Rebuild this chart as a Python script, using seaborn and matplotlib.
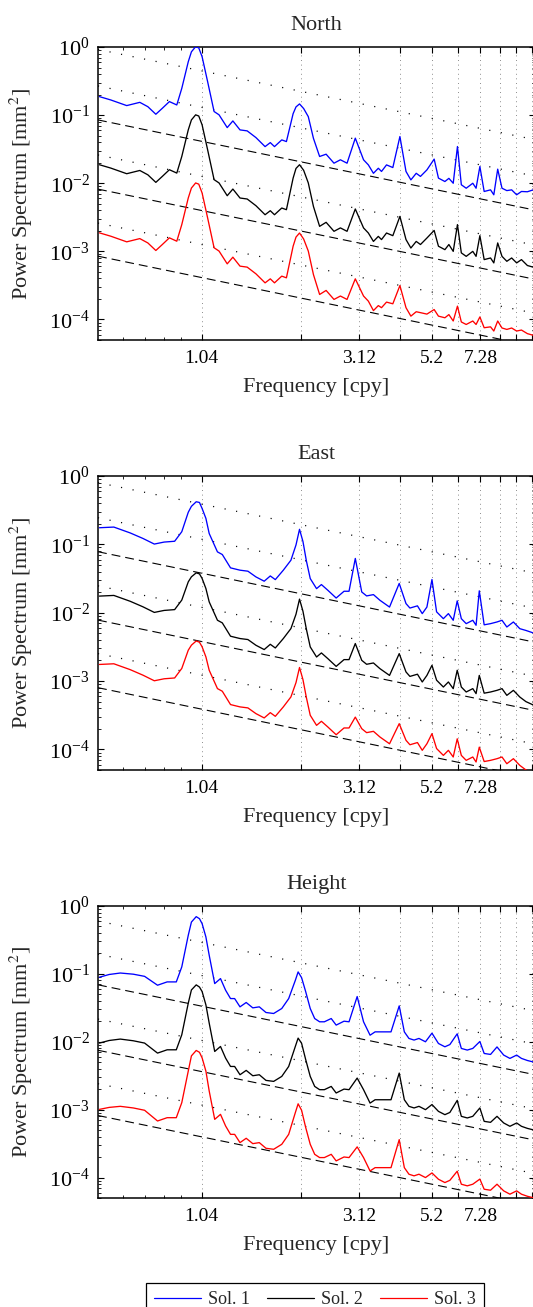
import numpy as np
import pandas as pd
import matplotlib
matplotlib.use('Agg')
import matplotlib.pyplot as plt
import seaborn as sns
from matplotlib.lines import Line2D
from matplotlib.ticker import FixedLocator, FixedFormatter, LogLocator, NullFormatter

SOLUTIONS = ['Sol. 1', 'Sol. 2', 'Sol. 3']
COLORS = {'Sol. 1': '#0000ff', 'Sol. 2': '#000000', 'Sol. 3': '#ff0000'}
# spectra are shifted by one decade each so they don't overlap
STACK = {'Sol. 1': 10.0, 'Sol. 2': 1.0, 'Sol. 3': 0.1}

HARMONICS = [1.04, 2.08, 3.12, 4.16, 5.2, 6.24, 7.28, 8.32, 9.36, 10.4]
HARM_LABELS = ['1.04', '', '3.12', '', '5.2', '', '7.28', '', '', '']

# ---- North ----
north_freq = [0.51, 0.552, 0.617, 0.676, 0.715, 0.756, 0.791, 0.831, 0.875, 0.906,
              0.948, 0.969, 0.998, 1.02, 1.044, 1.085, 1.135, 1.175, 1.244, 1.294, 1.36, 1.43,
              1.52, 1.62, 1.68, 1.73, 1.82, 1.88, 1.97, 2.01, 2.06, 2.12, 2.19, 2.27,
              2.37, 2.48, 2.62, 2.74, 2.87, 3.04, 3.22, 3.33, 3.45, 3.57,
              3.65, 3.78, 3.95, 4.15, 4.33, 4.48, 4.65, 4.79, 5.01, 5.27,
              5.43, 5.68, 5.84, 6.02, 6.20, 6.37, 6.59, 6.90, 7.06, 7.25,
              7.47, 7.81, 7.99, 8.21, 8.46, 8.75, 9.05, 9.37, 9.69, 10.1, 10.6]
north_sol1 = [0.0187, 0.0167, 0.0138, 0.0154, 0.0133, 0.0103, 0.0126, 0.0158, 0.0141, 0.0247,
              0.0608, 0.085, 0.101, 0.097, 0.072, 0.031, 0.0113, 0.0101, 0.00656, 0.00822, 0.00607, 0.00587,
              0.00468, 0.00345, 0.00395, 0.00345, 0.00433, 0.00409, 0.0105, 0.0132, 0.0146, 0.0125, 0.0095, 0.00457,
              0.00247, 0.00267, 0.00197, 0.00221, 0.00197, 0.00459, 0.00221, 0.00186, 0.0014, 0.00166,
              0.00149, 0.00186, 0.0017, 0.00485, 0.00149, 0.00112, 0.0014, 0.00126, 0.00157, 0.00226,
              0.00119, 0.00106, 0.00118, 0.001, 0.00346, 0.00095, 0.000845, 0.001, 0.000845, 0.00176,
              0.000757, 0.0008, 0.000677, 0.00161, 0.000845, 0.00078, 0.0008, 0.000677, 0.000757, 0.00075, 0.00081]
north_sol2 = [0.0187, 0.0167, 0.0138, 0.0154, 0.0133, 0.0103, 0.0126, 0.0158, 0.0141, 0.0247,
              0.0608, 0.085, 0.101, 0.097, 0.072, 0.031, 0.0113, 0.0101, 0.00656, 0.00822, 0.00607, 0.00587,
              0.00468, 0.00345, 0.00395, 0.00345, 0.00433, 0.00409, 0.0119, 0.0165, 0.0187, 0.0155, 0.0101, 0.00457,
              0.00233, 0.00267, 0.00197, 0.00221, 0.00197, 0.00419, 0.00221, 0.00186, 0.0014, 0.00166,
              0.00149, 0.00186, 0.0017, 0.00326, 0.00149, 0.00112, 0.0014, 0.00126, 0.00157, 0.00203,
              0.00119, 0.00106, 0.00126, 0.001, 0.00247, 0.00095, 0.000845, 0.001, 0.000845, 0.0017,
              0.000757, 0.0008, 0.000677, 0.00133, 0.000845, 0.000715, 0.0008, 0.000677, 0.000757, 0.00062, 0.00058]
north_sol3 = [0.0187, 0.0167, 0.0138, 0.0154, 0.0133, 0.0103, 0.0126, 0.0158, 0.0141, 0.0247,
              0.0608, 0.085, 0.101, 0.097, 0.072, 0.031, 0.0113, 0.0101, 0.00656, 0.00822, 0.00607, 0.00587,
              0.00468, 0.00345, 0.00395, 0.00345, 0.00433, 0.00409, 0.0119, 0.0162, 0.0186, 0.0152, 0.0101, 0.00457,
              0.00233, 0.00267, 0.00197, 0.00221, 0.00197, 0.00395, 0.00221, 0.00186, 0.00135, 0.0016,
              0.00149, 0.0018, 0.0017, 0.00315, 0.00149, 0.00112, 0.0013, 0.00126, 0.0012, 0.0014,
              0.00112, 0.00106, 0.00118, 0.00095, 0.00157, 0.00092, 0.000845, 0.00095, 0.000845, 0.00109,
              0.000757, 0.00078, 0.000677, 0.00095, 0.00075, 0.000715, 0.00075, 0.000677, 0.0007, 0.00062, 0.00058]

# ---- East ----
east_freq = [0.51, 0.564, 0.632, 0.691, 0.748, 0.801, 0.862, 0.906, 0.948, 0.969, 1.002, 1.025,
             1.044, 1.072, 1.097, 1.162, 1.202, 1.273, 1.36, 1.437, 1.52, 1.61, 1.68,
             1.74, 1.84, 1.94, 2.01, 2.06, 2.11, 2.16, 2.22, 2.32, 2.40, 2.51, 2.66,
             2.81, 2.91, 3.04, 3.18, 3.29, 3.45, 3.61, 3.86, 4.13, 4.33,
             4.45, 4.69, 4.85, 5.01, 5.19, 5.36, 5.62, 5.82, 6.02, 6.19,
             6.37, 6.59, 6.90, 7.06, 7.22, 7.47, 7.81, 8.17, 8.46, 8.75,
             9.16, 9.58, 10.0, 10.6]
east_sol1 = [0.0175, 0.0179, 0.0147, 0.0122, 0.0101, 0.0108, 0.0111, 0.0153, 0.0295, 0.036, 0.042, 0.041,
             0.0335, 0.024, 0.0144, 0.00776, 0.0071, 0.00453, 0.00419, 0.00405, 0.00334, 0.00289, 0.00345,
             0.00305, 0.00419, 0.00586, 0.0098, 0.0166, 0.011, 0.0058, 0.00316, 0.00225, 0.00258, 0.00213, 0.00164,
             0.00206, 0.00206, 0.00622, 0.00201, 0.00176, 0.00184, 0.00152, 0.00121, 0.00268, 0.00136,
             0.00117, 0.00126, 0.00097, 0.00121, 0.00306, 0.00103, 0.000818, 0.00097, 0.000775, 0.00149,
             0.000818, 0.000692, 0.000775, 0.000655, 0.00209, 0.000665, 0.000692, 0.000732, 0.000775, 0.000618,
             0.000732, 0.000584, 0.00055, 0.0005]
east_sol2 = [0.0175, 0.0179, 0.0147, 0.0122, 0.0101, 0.0108, 0.0111, 0.0153, 0.0283, 0.0335, 0.0383, 0.037,
             0.0317, 0.0226, 0.0144, 0.00776, 0.0071, 0.00453, 0.00419, 0.00405, 0.00334, 0.00289, 0.00345,
             0.00305, 0.00419, 0.00586, 0.0095, 0.0158, 0.0105, 0.0058, 0.00316, 0.00225, 0.00258, 0.00213, 0.00164,
             0.00206, 0.00206, 0.00354, 0.00201, 0.00176, 0.00184, 0.00152, 0.00121, 0.00252, 0.00136,
             0.00117, 0.00126, 0.00097, 0.00121, 0.0017, 0.00103, 0.000818, 0.00097, 0.000775, 0.00144,
             0.000818, 0.000692, 0.000775, 0.000655, 0.00121, 0.000665, 0.000692, 0.000732, 0.000775, 0.000618,
             0.000732, 0.000584, 0.0005, 0.00044]
east_sol3 = [0.0175, 0.0179, 0.0147, 0.0122, 0.0101, 0.0108, 0.0111, 0.0153, 0.0283, 0.0335, 0.0386, 0.037,
             0.0317, 0.0226, 0.0144, 0.00776, 0.0071, 0.00453, 0.00419, 0.00405, 0.00334, 0.00289, 0.00345,
             0.00305, 0.00419, 0.00586, 0.0095, 0.0158, 0.0105, 0.0058, 0.00316, 0.00225, 0.00258, 0.00213, 0.00164,
             0.00206, 0.00206, 0.00297, 0.00201, 0.00176, 0.00184, 0.00152, 0.00121, 0.00238, 0.00136,
             0.00117, 0.00126, 0.00097, 0.00121, 0.0017, 0.00103, 0.000818, 0.00097, 0.000775, 0.00143,
             0.000818, 0.000692, 0.000775, 0.000655, 0.00108, 0.000665, 0.000692, 0.000732, 0.000775, 0.000618,
             0.000732, 0.000584, 0.0005, 0.00044]

# ---- Height ----
height_freq = [0.51, 0.546, 0.59, 0.646, 0.699, 0.765, 0.818, 0.872, 0.906, 0.948, 0.969,
               1.002, 1.025, 1.044, 1.072, 1.097, 1.14, 1.187, 1.23, 1.273, 1.31, 1.36, 1.42,
               1.487, 1.556, 1.63, 1.72, 1.82, 1.91, 2.0, 2.04, 2.09, 2.15, 2.22, 2.29,
               2.37, 2.45, 2.57, 2.66, 2.81, 2.91, 3.08, 3.22, 3.37, 3.49,
               3.70, 3.90, 4.13, 4.28, 4.42, 4.58, 4.74, 4.96, 5.19, 5.43,
               5.68, 5.88, 6.19, 6.37, 6.64, 6.90, 7.25, 7.47, 7.81, 8.17,
               8.56, 8.94, 9.37, 9.69, 10.1, 10.6]
height_sol1 = [0.00893, 0.0098, 0.0103, 0.0099, 0.0092, 0.00681, 0.00762, 0.00762, 0.01268, 0.0371, 0.058,
               0.0697, 0.065, 0.055, 0.035, 0.01884, 0.0072, 0.00853, 0.00575, 0.00433, 0.00433, 0.00327, 0.00379,
               0.00316, 0.00327, 0.0027, 0.00261, 0.00309, 0.00433, 0.008, 0.0107, 0.0088, 0.0055, 0.00309, 0.0022,
               0.00197, 0.00197, 0.0022, 0.00176, 0.00201, 0.00197, 0.00464, 0.00197, 0.00125, 0.0014,
               0.0014, 0.0014, 0.00338, 0.0014, 0.00112, 0.00106, 0.00112, 0.001, 0.00134, 0.000944,
               0.000844, 0.00091, 0.00131, 0.000798, 0.000755, 0.000798, 0.00101, 0.000673, 0.000651, 0.00084,
               0.000637, 0.000569, 0.000637, 0.000569, 0.00053, 0.0005]
height_sol2 = [0.00957, 0.01045, 0.01096, 0.01035, 0.00957, 0.00681, 0.00762, 0.00762, 0.01268, 0.0371, 0.058,
               0.0689, 0.064, 0.055, 0.035, 0.01884, 0.0072, 0.00853, 0.00575, 0.00433, 0.00433, 0.00327, 0.00379,
               0.00316, 0.00327, 0.0027, 0.00261, 0.00309, 0.00433, 0.0085, 0.01133, 0.0095, 0.0055, 0.00309, 0.0022,
               0.00197, 0.00197, 0.0022, 0.00176, 0.00201, 0.00197, 0.00292, 0.00197, 0.00125, 0.0014,
               0.0014, 0.0014, 0.00346, 0.0014, 0.00112, 0.00106, 0.00112, 0.001, 0.00119, 0.000944,
               0.000844, 0.00091, 0.00137, 0.000798, 0.000755, 0.000798, 0.00106, 0.000673, 0.000651, 0.000798,
               0.000637, 0.000569, 0.000637, 0.000569, 0.00053, 0.0005]
height_sol3 = [0.0101, 0.0108, 0.0112, 0.0106, 0.0098, 0.00681, 0.00762, 0.00762, 0.01268, 0.0371, 0.062,
               0.0745, 0.07, 0.058, 0.037, 0.01884, 0.0072, 0.00853, 0.00575, 0.00433, 0.00433, 0.00327, 0.00379,
               0.00316, 0.00327, 0.0027, 0.00261, 0.00309, 0.00433, 0.009, 0.0122, 0.0098, 0.0055, 0.00309, 0.0022,
               0.00197, 0.00197, 0.0022, 0.00176, 0.00201, 0.00197, 0.00283, 0.00197, 0.00125, 0.0014,
               0.0014, 0.0014, 0.00362, 0.0014, 0.00112, 0.00106, 0.00112, 0.001, 0.00117, 0.000944,
               0.000844, 0.00091, 0.00124, 0.000798, 0.000755, 0.000798, 0.00095, 0.000673, 0.000651, 0.000798,
               0.000637, 0.000569, 0.000637, 0.000569, 0.00053, 0.0005]

# power-law reference levels (value at the left edge of the axis)
north_dotted = [0.92, 0.268, 0.026, 0.0026]
north_dashed = [0.085, 0.0082, 0.00085]
east_dotted = [0.80, 0.245, 0.0247, 0.00252]
east_dashed = [0.078, 0.0078, 0.0008]
height_dotted = [0.60, 0.195, 0.0216, 0.00241]
height_dashed = [0.069, 0.0075, 0.00082]

PANELS = [
    ('North', north_freq, [north_sol1, north_sol2, north_sol3], north_dotted, north_dashed),
    ('East', east_freq, [east_sol1, east_sol2, east_sol3], east_dotted, east_dashed),
    ('Height', height_freq, [height_sol1, height_sol2, height_sol3], height_dotted, height_dashed),
]

XLIM = (0.505, 10.65)
YLIM = (5e-5, 1.0)

sns.set_style('ticks')
plt.rcParams['font.family'] = ['Liberation Serif', 'DejaVu Serif']
plt.rcParams['mathtext.fontset'] = 'stix'
plt.rcParams['axes.unicode_minus'] = True


def spectrum_frame(freq, sols):
    parts = []
    for name, vals in zip(SOLUTIONS, sols):
        parts.append(pd.DataFrame({'freq': freq,
                                   'power': np.asarray(vals) * STACK[name],
                                   'solution': name}))
    return pd.concat(parts, ignore_index=True)


W, H = 533, 1307
fig = plt.figure(figsize=(W / 100, H / 100), dpi=100)
left = 98 / W
width = (535 - 98) / W
boxes = [(47, 340), (476, 770), (906, 1198)]

for (title, freq, sols, dotted, dashed), (top, bot) in zip(PANELS, boxes):
    ax = fig.add_axes([left, 1 - bot / H, width, (bot - top) / H])
    ax.set_xscale('log')
    ax.set_yscale('log')

    fref = np.array(XLIM)
    for lvl in dotted:
        ax.plot(fref, lvl * XLIM[0] / fref, color='k', lw=0.9, ls=(0, (0.9, 8.5)), zorder=1)
    for lvl in dashed:
        ax.plot(fref, lvl * XLIM[0] / fref, color='k', lw=0.8, ls=(0, (8, 4.5)), zorder=1)

    df = spectrum_frame(freq, sols)
    sns.lineplot(data=df, x='freq', y='power', hue='solution', hue_order=SOLUTIONS,
                 palette=COLORS, estimator=None, linewidth=0.95, legend=False, ax=ax, zorder=3)

    ax.set_xlim(*XLIM)
    ax.set_ylim(*YLIM)
    ax.xaxis.set_major_locator(FixedLocator(HARMONICS))
    ax.xaxis.set_major_formatter(FixedFormatter(HARM_LABELS))
    ax.xaxis.set_minor_locator(FixedLocator([0.6, 0.7, 0.8, 0.9]))
    ax.xaxis.set_minor_formatter(NullFormatter())
    ax.yaxis.set_major_locator(LogLocator(base=10, numticks=10))
    ax.yaxis.set_minor_locator(LogLocator(base=10, subs=np.arange(2, 10) * 1.0, numticks=30))
    ax.yaxis.set_minor_formatter(NullFormatter())

    ax.tick_params(which='both', direction='in', top=True, right=True, colors='k')
    ax.tick_params(which='major', length=4.5, width=0.8)
    ax.tick_params(which='minor', length=2.2, width=0.6)
    ax.tick_params(axis='x', labelsize=14, pad=7)
    ax.tick_params(axis='y', labelsize=16, pad=6)
    ax.grid(axis='x', which='major', color='0.4', lw=0.6, ls=(0, (1, 4.5)))
    ax.grid(axis='y', visible=False)
    for sp in ax.spines.values():
        sp.set_linewidth(1.1)
        sp.set_color('k')

    ax.set_title(title, fontsize=16, pad=12)
    ax.set_xlabel('Frequency [cpy]', fontsize=16, labelpad=8)
    ax.set_ylabel('Power Spectrum [mm$^2$]', fontsize=16, labelpad=10)

handles = [Line2D([], [], color=COLORS[s], lw=0.9) for s in SOLUTIONS]
leg = fig.legend(handles, SOLUTIONS, loc='upper center', bbox_to_anchor=(315 / W, 1 - 1274 / H),
                 ncol=3, fontsize=13, frameon=True, fancybox=False, framealpha=1,
                 edgecolor='k', handlelength=2.6, handletextpad=0.4, columnspacing=0.95,
                 borderpad=0.45)
leg.get_frame().set_linewidth(0.9)

fig.savefig('out.png', dpi=100)
